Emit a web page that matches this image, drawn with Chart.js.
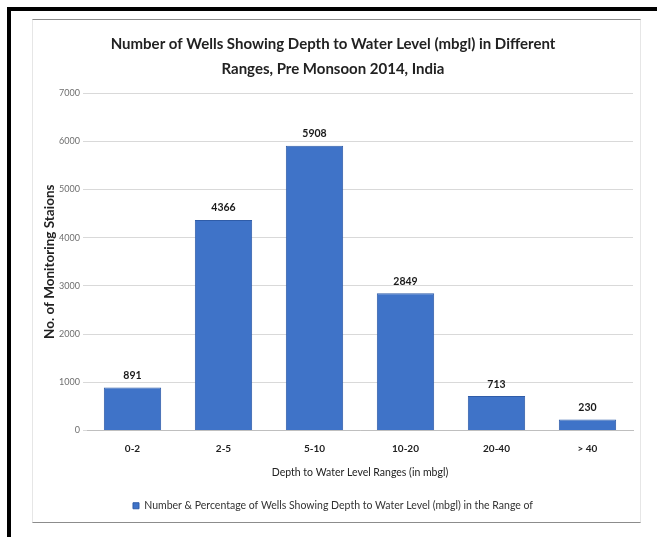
<!DOCTYPE html>
<html>
<head>
<meta charset="utf-8">
<script src="https://cdn.jsdelivr.net/npm/chart.js@4/dist/chart.umd.min.js"></script>
<style>
  html, body { margin: 0; padding: 0; background: #ffffff; }
  body { width: 657px; height: 537px; position: relative; overflow: hidden; }
  .frame {
    position: absolute; left: 7px; top: 7px; width: 700px; height: 560px;
    border-top: 4px solid #000; border-left: 4px solid #000;
  }
  .panel {
    position: absolute; left: 32px; top: 19px; width: 607px; height: 502px;
    border: 1px solid #e6e6e6; border-top: 1px solid #8c8c8c; border-bottom: 1px solid #8c8c8c;
  }
  .panel canvas { display: block; }
</style>
</head>
<body>
<div class="frame"></div>
<div class="panel"><canvas id="chart" width="607" height="502"></canvas></div>
<script>
const categories = ['0-2', '2-5', '5-10', '10-20', '20-40', '> 40'];
const wellCounts = [891, 4366, 5908, 2849, 713, 230];
const yTicks = [0, 1000, 2000, 3000, 4000, 5000, 6000, 7000];

const chartTitle = ['Number of Wells Showing Depth to Water Level (mbgl) in Different',
                    'Ranges, Pre Monsoon 2014, India'];
const xTitle = 'Depth to Water Level Ranges (in mbgl)';
const yTitle = 'No. of Monitoring Staions';
const seriesName = 'Number & Percentage of Wells Showing Depth to Water Level (mbgl) in the Range of';

const FONT = "Lato, 'Open Sans', sans-serif";

// Value labels printed above each bar
const barValueLabels = {
  id: 'barValueLabels',
  afterDatasetsDraw(chart) {
    const ctx = chart.ctx;
    const meta = chart.getDatasetMeta(0);
    const data = chart.data.datasets[0].data;
    ctx.save();
    ctx.font = "bold 10.5px " + FONT;
    ctx.fillStyle = '#1a1a1a';
    ctx.textAlign = 'center';
    ctx.textBaseline = 'middle';
    meta.data.forEach((bar, i) => {
      ctx.fillText(String(data[i]), bar.x, bar.y - 12);
    });
    ctx.restore();
  }
};

new Chart(document.getElementById('chart'), {
  type: 'bar',
  data: {
    labels: categories,
    datasets: [{
      label: seriesName,
      data: wellCounts,
      backgroundColor: '#3f73c8',
      borderColor: '#2f5ca8',
      borderWidth: 1,
      categoryPercentage: 1.0,
      barPercentage: 0.63
    }]
  },
  options: {
    responsive: false,
    animation: false,
    devicePixelRatio: 1,
    layout: { padding: { top: 0, right: 7, bottom: 1, left: 0 } },
    plugins: {
      title: {
        display: true,
        text: chartTitle,
        color: '#222222',
        font: { family: FONT, size: 15, weight: 'bold', lineHeight: '25px' },
        padding: { top: 12, bottom: 11 }
      },
      legend: {
        display: true,
        position: 'bottom',
        labels: {
          color: '#333333',
          font: { family: FONT, size: 10.5 },
          boxWidth: 6,
          boxHeight: 6,
          padding: 8
        }
      },
      tooltip: { enabled: false }
    },
    scales: {
      x: {
        grid: { display: false, drawTicks: false },
        border: { display: true, color: '#bfbfbf', width: 1 },
        ticks: {
          color: '#222222',
          font: { family: FONT, size: 10, weight: 'bold' },
          padding: 12,
          maxRotation: 0
        },
        title: {
          display: true,
          text: xTitle,
          color: '#222222',
          font: { family: FONT, size: 10.5 },
          padding: { top: 4, bottom: 14 }
        },
        afterFit(scale) { scale.height = 62; }
      },
      y: {
        min: 0,
        max: 7000,
        afterBuildTicks(scale) { scale.ticks = yTicks.map(v => ({ value: v })); },
        grid: { color: '#d9d9d9', tickLength: 4, tickColor: '#d9d9d9' },
        border: { display: false },
        ticks: {
          color: '#6f6f6f',
          font: { family: FONT, size: 9 },
          padding: 3,
          callback: (v) => String(v)
        },
        title: {
          display: true,
          text: yTitle,
          color: '#222222',
          font: { family: FONT, size: 13.5, weight: 'bold' },
          padding: { top: 9, bottom: 4 }
        },
        afterFit(scale) { scale.width = 54; }
      }
    }
  },
  plugins: [barValueLabels]
});
</script>
</body>
</html>
